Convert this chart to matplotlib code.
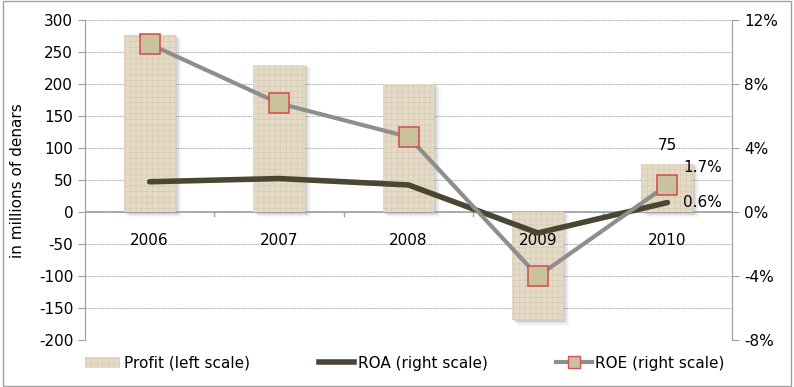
import numpy as np
import matplotlib.pyplot as plt
from matplotlib.lines import Line2D
from matplotlib.patches import Patch, Rectangle

years = ["2006", "2007", "2008", "2009", "2010"]
profit = [276, 230, 200, -169, 75]
roa = [1.9, 2.1, 1.7, -1.3, 0.6]
roe = [10.5, 6.8, 4.7, -4.0, 1.7]

plt.rcParams['font.family'] = ['DejaVu Sans']
plt.rcParams['font.size'] = 11
plt.rcParams['axes.unicode_minus'] = False
plt.rcParams['hatch.linewidth'] = 0.4

fig = plt.figure(figsize=(7.94, 3.87), dpi=100)
ax = fig.add_axes([0.107, 0.121, 0.815, 0.827])
ax2 = ax.twinx()

x = np.arange(len(years))
bar_col = '#e4dac6'
hatch_col = '#d3c8af'

# soft shadow behind the bars
for xi, v in zip(x, profit):
    for k, a in enumerate([0.16, 0.11, 0.07, 0.04]):
        ax.add_patch(Rectangle((xi - 0.2 + 0.012 + k * 0.012, min(0, v) - 3 - k * 1.8), 0.4, abs(v) + 3,
                               facecolor='#707070', alpha=a, edgecolor='none', zorder=1))
bars = ax.bar(x, profit, width=0.4, color=bar_col, hatch='+++', linewidth=0, zorder=2)
for b in bars:
    b.set_edgecolor(hatch_col)

ax.set_xlim(-0.5, 4.5)
ax.set_ylim(-200, 300)
ax.set_yticks(np.arange(-200, 301, 50))
ax.grid(axis='y', linestyle=(0, (1.5, 1)), color='#a8a8a8', linewidth=0.7, zorder=0)
ax.set_axisbelow(True)
ax.axhline(0, color='#a0a0a0', linewidth=1.2, zorder=1.5)
for b in np.arange(0.5, 4.5, 1):
    ax.plot([b, b], [0, -6], color='#a0a0a0', linewidth=1, zorder=1.5)
ax.set_xticks([])
for xi, yr in zip(x, years):
    ax.text(xi, -44, yr, ha='center', va='center', fontsize=11, zorder=6)

ax.set_ylabel("in millions of denars", fontsize=11, labelpad=10)
for s in ['top', 'bottom']:
    ax.spines[s].set_visible(False)
    ax2.spines[s].set_visible(False)
for s in ['left', 'right']:
    ax.spines[s].set_color('#a0a0a0')
    ax2.spines[s].set_color('#a0a0a0')
ax.tick_params(axis='y', colors='#a0a0a0', labelcolor='black', length=5, labelsize=11)

ax2.set_ylim(-8, 12)
ax2.set_yticks(np.arange(-8, 13, 4))
ax2.set_yticklabels([f"{t}%" for t in range(-8, 13, 4)])
ax2.tick_params(axis='y', colors='#a0a0a0', labelcolor='black', length=5, labelsize=11)

ax2.plot(x, roa, color='#4b4632', linewidth=4, solid_capstyle='round', zorder=3)
ax2.plot(x, roe, color='#8e8e8e', linewidth=3, marker='s', markersize=14,
         markerfacecolor='#c9c29c', markeredgecolor='#d05555', markeredgewidth=1.2, zorder=4)

ax.text(4, profit[4] + 18, "75", ha='center', va='bottom', fontsize=11)
ax2.text(4.12, roe[4] + 0.6, "1.7%", ha='left', va='bottom', fontsize=11)
ax2.text(4.12, roa[4], "0.6%", ha='left', va='center', fontsize=11)

handles = [Patch(facecolor=bar_col, edgecolor=hatch_col, hatch='+++', linewidth=0),
           Line2D([], [], color='#4b4632', linewidth=4),
           Line2D([], [], color='#8e8e8e', linewidth=3, marker='s', markersize=9,
                  markerfacecolor='#c9c29c', markeredgecolor='#d05555')]
labels = ["Profit (left scale)", "ROA (right scale)", "ROE (right scale)"]
fig.legend(handles, labels, loc='center', bbox_to_anchor=(0.51, 0.062), ncol=3,
           frameon=False, columnspacing=4.5, handlelength=2.3, handletextpad=0.25,
           fontsize=11, borderpad=0)

fig.add_artist(Rectangle((0.004, 0.003), 0.992, 0.994, transform=fig.transFigure,
                         fill=False, edgecolor='#a0a0a0', linewidth=1))

fig.savefig("out.png", dpi=100)
